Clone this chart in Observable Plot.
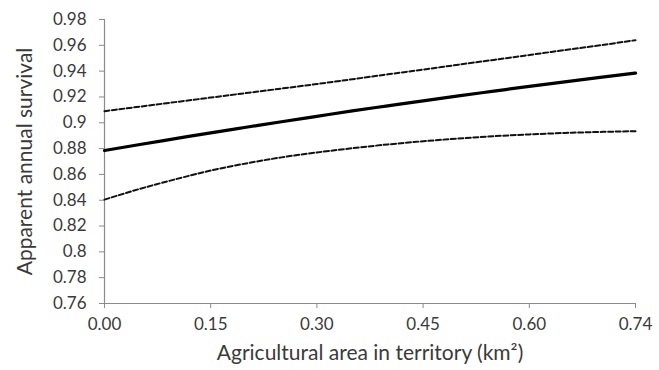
<!DOCTYPE html>
<html>
<head>
<meta charset="utf-8">
<script src="https://cdn.jsdelivr.net/npm/d3@7"></script>
<script src="https://cdn.jsdelivr.net/npm/@observablehq/plot@0.6"></script>
<style>
  html, body { margin: 0; padding: 0; background: #fff; }
  #chart svg { display: block; }
</style>
</head>
<body>
<div id="chart"></div>
<script>
// Position along the (category-style) x axis, km²
const xs = [0, 0.05, 0.10, 0.15, 0.20, 0.25, 0.30, 0.35, 0.40, 0.45, 0.50, 0.55, 0.60, 0.65, 0.70, 0.75];
// Estimated apparent annual survival
const estimate = [0.8785, 0.8832, 0.8877, 0.8922, 0.8965, 0.9008, 0.9050, 0.9092, 0.9131, 0.9170, 0.9208, 0.9245, 0.9282, 0.9317, 0.9351, 0.9385];
// Upper confidence limit
const upper = [0.9090, 0.9125, 0.9160, 0.9195, 0.9230, 0.9265, 0.9300, 0.9337, 0.9375, 0.9412, 0.9450, 0.9487, 0.9525, 0.9563, 0.9600, 0.9640];
// Lower confidence limit
const lower = [0.8405, 0.8488, 0.8562, 0.8630, 0.8685, 0.8732, 0.8770, 0.8803, 0.8832, 0.8857, 0.8878, 0.8896, 0.8910, 0.8921, 0.8929, 0.8935];

const xTickValues = [0, 0.15, 0.30, 0.45, 0.60, 0.75];
const xTickLabels = ["0.00", "0.15", "0.30", "0.45", "0.60", "0.74"];
const yTickValues = [0.76, 0.78, 0.80, 0.82, 0.84, 0.86, 0.88, 0.90, 0.92, 0.94, 0.96, 0.98];
const xTitle = "Agricultural area in territory (km²)";
const yTitle = "Apparent annual survival";

const mk = arr => xs.map((x, i) => ({x, y: arr[i]}));

const axisColor = "#8a8a8a";
const textColor = "#3a3a3a";

const chart = Plot.plot({
  width: 659,
  height: 370,
  marginLeft: 104,
  marginRight: 24,
  marginTop: 19,
  marginBottom: 67,
  style: {fontFamily: "Lato, 'Open Sans', sans-serif", fontSize: "17px", color: textColor, background: "#fff"},
  x: {domain: [0, 0.75]},
  y: {domain: [0.76, 0.98]},
  marks: [
    Plot.axisY({
      ticks: yTickValues,
      tickFormat: d => String(+d.toFixed(2)),
      tickSize: 5,
      tickPadding: 13,
      stroke: axisColor,
      fill: textColor,
      fontSize: 17,
      label: null
    }),
    Plot.axisX({
      ticks: xTickValues,
      tickFormat: (d, i) => xTickLabels[i],
      tickSize: 5,
      tickPadding: 9,
      stroke: axisColor,
      fill: textColor,
      fontSize: 17,
      label: null
    }),
    Plot.text([xTitle], {
      frameAnchor: "bottom",
      dy: 56,
      fontSize: 21,
      fill: textColor
    }),
    Plot.text([yTitle], {
      frameAnchor: "left",
      textAnchor: "middle",
      dx: -79,
      rotate: -90,
      fontSize: 21,
      fill: textColor
    }),
    Plot.ruleY([0.76], {stroke: axisColor, strokeWidth: 1.2}),
    Plot.ruleX([0], {stroke: axisColor, strokeWidth: 1.2}),
    Plot.line(mk(upper), {x: "x", y: "y", stroke: "#111", strokeWidth: 2, strokeDasharray: "5,2.5", curve: "monotone-x"}),
    Plot.line(mk(lower), {x: "x", y: "y", stroke: "#111", strokeWidth: 2, strokeDasharray: "5,2.5", curve: "monotone-x"}),
    Plot.line(mk(estimate), {x: "x", y: "y", stroke: "#000", strokeWidth: 3.2, curve: "monotone-x"})
  ]
});
document.getElementById("chart").appendChild(chart);
</script>
</body>
</html>
